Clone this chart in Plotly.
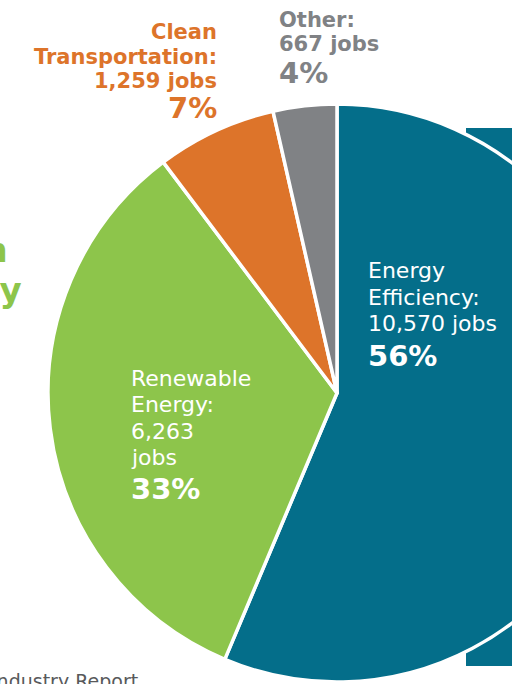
import plotly.graph_objects as go

# ---- data ----
sectors = ["Energy Efficiency", "Renewable Energy", "Clean Transportation", "Other"]
jobs = [10570, 6263, 1259, 667]
colors = ["#046E8A", "#8DC54B", "#DD742A", "#808285"]

total = sum(jobs)
pcts = [round(100 * j / total) for j in jobs]

# ---- layout constants (pixels) ----
W, H = 640, 684
cx, cy, r = 337, 393, 289

def px(x):
    return x / W

def py(y):
    return 1 - y / H

fig = go.Figure()

# teal background panel on the right
fig.add_shape(type="rect", xref="paper", yref="paper",
              x0=px(466), x1=1.0, y0=py(666), y1=py(128),
              fillcolor=colors[0], line=dict(width=0), layer="below")

fig.add_trace(go.Pie(
    labels=sectors,
    values=jobs,
    sort=False,
    direction="clockwise",
    rotation=0,
    marker=dict(colors=colors, line=dict(color="white", width=3.5)),
    textinfo="none",
    hoverinfo="label+value+percent",
    showlegend=False,
    domain=dict(x=[px(cx - r), px(cx + r)], y=[py(cy + r), py(cy - r)]),
))

FONT = "DejaVu Sans"
REG = 22
OUT = 21
BIG = 29

def fmt(n):
    return f"{n:,}"

def add(text, x, y, anchor, size, color, bold=False):
    fig.add_annotation(
        text=f"<b>{text}</b>" if bold else text,
        xref="paper", yref="paper", x=px(x), y=py(y),
        xanchor=anchor, yanchor="middle", showarrow=False,
        font=dict(family=FONT, size=size, color=color),
    )

# Energy Efficiency (inside, white)
ee_lines = ["Energy", "Efficiency:", f"{fmt(jobs[0])} jobs"]
for t, y in zip(ee_lines, [271, 298, 324]):
    add(t, 366, y, "left", REG, "white")
add(f"{pcts[0]}%", 366, 356, "left", BIG, "white", bold=True)

# Renewable Energy (inside, white)
re_lines = ["Renewable", "Energy:", fmt(jobs[1]), "jobs"]
for t, y in zip(re_lines, [378, 404, 431, 457]):
    add(t, 129, y, "left", REG, "white")
add(f"{pcts[1]}%", 129, 489, "left", BIG, "white", bold=True)

# Clean Transportation (outside, orange, right aligned)
ct_lines = ["Clean", "Transportation:", f"{fmt(jobs[2])} jobs"]
for t, y in zip(ct_lines, [32, 57, 81]):
    add(t, 219, y, "right", OUT, colors[2], bold=True)
add(f"{pcts[2]}%", 219, 108, "right", BIG, colors[2], bold=True)

# Other (outside, grey, left aligned)
ot_lines = ["Other:", f"{fmt(jobs[3])} jobs"]
for t, y in zip(ot_lines, [20, 44]):
    add(t, 277, y, "left", OUT, colors[3], bold=True)
add(f"{pcts[3]}%", 277, 73, "left", BIG, colors[3], bold=True)

# partially cut-off title at left
add("Clean", 10, 250, "right", 34, colors[1], bold=True)
add("Energy", 24, 290, "right", 34, colors[1], bold=True)

# partially cut-off source note
add("Industry Report.", 146, 681, "right", 19, "#58595B")

fig.update_layout(
    width=W, height=H,
    margin=dict(l=0, r=0, t=0, b=0),
    paper_bgcolor="white",
    plot_bgcolor="white",
)

fig.write_html(
    "out.html",
    post_script="document.documentElement.style.overflow='hidden';"
                "document.body.style.overflow='hidden';"
                "document.body.style.margin='0';",
)
